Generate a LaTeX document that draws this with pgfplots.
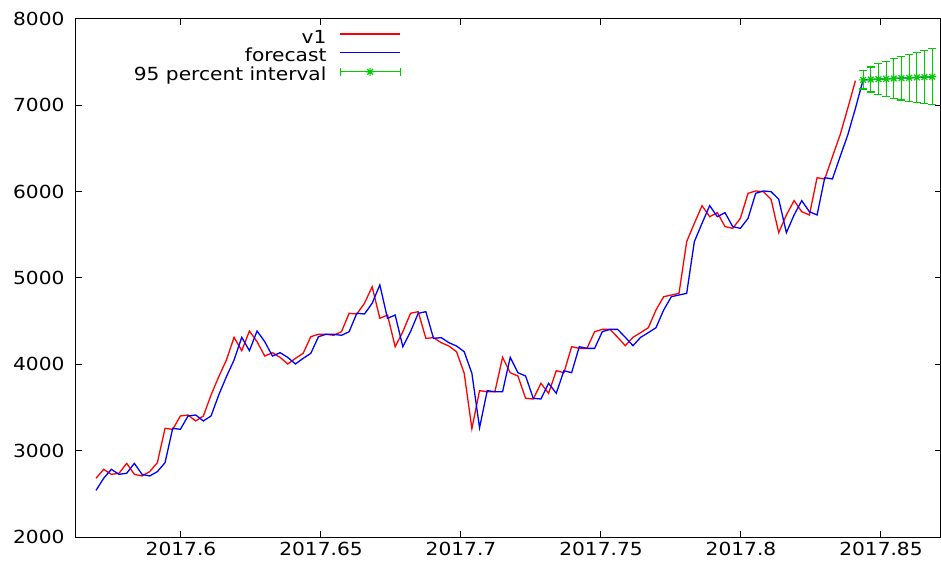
\documentclass[border=0pt]{standalone}
\usepackage{fontspec}
\setmainfont{DejaVu Sans}[FakeStretch=1.12]
\usepackage{pgfplots}
\pgfplotsset{compat=1.18}
\usepackage{pgfplotstable}

\definecolor{gred}{RGB}{255,0,0}
\definecolor{gblue}{RGB}{0,0,255}
\definecolor{ggreen}{RGB}{0,204,0}
\newcommand\ff{\fontsize{18}{21}\selectfont}

\pgfdeclareplotmark{gstar}{%
 \pgfpathmoveto{\pgfqpoint{-\pgfplotmarksize}{0pt}}\pgfpathlineto{\pgfqpoint{\pgfplotmarksize}{0pt}}%
 \pgfpathmoveto{\pgfqpoint{0pt}{-\pgfplotmarksize}}\pgfpathlineto{\pgfqpoint{0pt}{\pgfplotmarksize}}%
 \pgfpathmoveto{\pgfqpoint{-0.707\pgfplotmarksize}{-0.707\pgfplotmarksize}}\pgfpathlineto{\pgfqpoint{0.707\pgfplotmarksize}{0.707\pgfplotmarksize}}%
 \pgfpathmoveto{\pgfqpoint{-0.707\pgfplotmarksize}{0.707\pgfplotmarksize}}\pgfpathlineto{\pgfqpoint{0.707\pgfplotmarksize}{-0.707\pgfplotmarksize}}%
 \pgfusepathqstroke}

\pgfplotstableread{
v
2680
2784
2726
2738
2853
2726
2707
2757
2861
3259
3247
3402
3413
3344
3402
3645
3857
4050
4313
4158
4386
4262
4096
4135
4080
4004
4069
4127
4320
4348
4348
4336
4378
4591
4583
4707
4899
4533
4571
4204
4378
4591
4610
4301
4309
4251
4212
4146
3896
3255
3695
3683
3683
4081
3903
3865
3607
3598
3780
3664
3926
3903
4204
4185
4185
4378
4405
4405
4313
4216
4313
4367
4424
4629
4783
4803
4822
5421
5633
5838
5710
5757
5595
5575
5691
5981
6008
6000
5912
5525
5730
5896
5768
5730
6162
6147
6405
6657
6966
7286
}\vone

\pgfplotstableread{
f
2540
2680
2784
2726
2738
2853
2726
2707
2757
2861
3259
3247
3402
3413
3344
3402
3645
3857
4050
4313
4158
4386
4262
4096
4135
4080
4004
4069
4127
4320
4348
4348
4336
4378
4591
4583
4707
4920
4533
4571
4204
4378
4591
4610
4301
4309
4251
4212
4146
3896
3265
3695
3683
3683
4081
3903
3865
3607
3598
3780
3664
3926
3903
4204
4185
4185
4378
4405
4405
4313
4216
4313
4367
4424
4629
4783
4803
4822
5421
5633
5838
5710
5757
5595
5575
5691
5981
6008
6000
5912
5525
5730
5896
5768
5730
6162
6147
6405
6657
6966
7295
7299
7303
7307
7311
7315
7319
7323
7327
7331
}\fcast

\pgfplotstableread{
x y e
100 7295 107
101 7299 145
102 7303 182
103 7307 204
104 7311 231
105 7315 254
106 7319 272
107 7323 286
108 7327 304
109 7331 326
}\interval

\begin{document}
\begin{tikzpicture}
\begin{axis}[
  scale only axis,
  width=864.5pt, height=518pt,
  xmin=-2.607, xmax=110.09,
  ymin=2000, ymax=8000,
  xtick={11.08,29.33,47.58,65.83,84.08,102.33},
  xticklabels={2017.6,2017.65,2017.7,2017.75,2017.8,2017.85},
  ytick={2000,3000,4000,5000,6000,7000,8000},
  tick align=inside,
  major tick length=6pt,
  tick style={black, line width=1pt},
  axis line style={black, line width=1pt},
  /pgf/number format/assume math mode=true,
  /pgf/number format/1000 sep={},
  yticklabel style={font=\ff, xshift=-8pt},
  xticklabel style={font=\ff, yshift=-2pt},
  legend plot pos=right,
  legend cell align=right,
  legend style={draw=none, fill=none, font=\ff,
    at={(axis description cs:0.3759,0.979)}, anchor=north east,
    inner sep=0pt, row sep=0.6pt, column sep=13pt,
    nodes={inner sep=0pt, text height=13pt, text depth=5pt}},
]
\coordinate (bl) at (rel axis cs:0,0);
\coordinate (tr) at (rel axis cs:1,1);
\addplot[gred, line width=1.3pt, no markers,
  legend image code/.code={\draw[gred, line width=1.3pt] (0pt,5pt) -- (60pt,5pt);}]
  table[x expr=\coordindex, y index=0] {\vone};
\addlegendentry{v1}
\addplot[gblue, line width=1.3pt, no markers,
  legend image code/.code={\draw[gblue, line width=1.3pt] (0pt,5pt) -- (60pt,5pt);}]
  table[x expr=\coordindex, y index=0] {\fcast};
\addlegendentry{forecast}
\addplot[ggreen, line width=1.2pt, only marks, mark=gstar, mark size=4pt,
  legend image code/.code={
    \draw[ggreen, line width=1.2pt] (0pt,5pt) -- (60pt,5pt);
    \draw[ggreen, line width=1.2pt] (0pt,1pt) -- (0pt,9pt);
    \draw[ggreen, line width=1.2pt] (60pt,1pt) -- (60pt,9pt);
    \draw[ggreen, line width=1.2pt] (26pt,5pt) -- (34pt,5pt) (30pt,1pt) -- (30pt,9pt)
       (27.2pt,2.2pt) -- (32.8pt,7.8pt) (27.2pt,7.8pt) -- (32.8pt,2.2pt);},
  error bars/.cd, y dir=both, y explicit,
  error bar style={ggreen, line width=1.2pt},
  error mark options={rotate=90, mark size=4pt, ggreen, line width=1.2pt}]
  table[x=x, y=y, y error=e] {\interval};
\addlegendentry{95 percent interval}
\end{axis}
\path ([xshift=-76pt,yshift=-30pt]bl) rectangle ([xshift=0.5pt,yshift=19pt]tr);
\end{tikzpicture}
\end{document}
